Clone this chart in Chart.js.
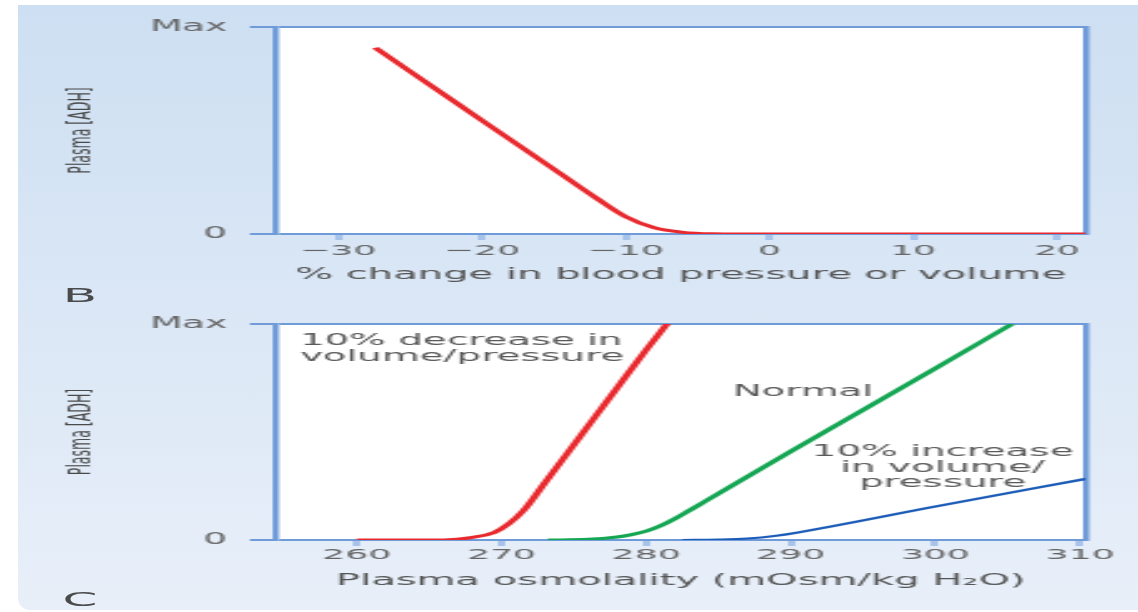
<!DOCTYPE html>
<html>
<head>
<meta charset="utf-8">
<script src="https://cdn.jsdelivr.net/npm/chart.js@4.4.0/dist/chart.umd.min.js"></script>
<style>
html, body { margin: 0; padding: 0; background: #fff; }
body { width: 1138px; height: 612px; position: relative; overflow: hidden; font-family: 'DejaVu Sans', sans-serif; }
#bg { position: absolute; left: 18px; top: 5px; width: 1120px; height: 605px; border-bottom-left-radius: 12px;
      background: linear-gradient(#cddff2, #e8eff9); }
/* the figure is drawn narrow and stretched sideways, like the reference */
#stretch { position: absolute; left: 0; top: 0; width: 455px; height: 612px; transform: scaleX(2.5011); transform-origin: 0 0; }
#boxB { position: absolute; left: 0; top: 0; width: 455px; height: 300px; }
#boxC { position: absolute; left: 0; top: 300px; width: 455px; height: 312px; }
.panel { position: absolute; left: 22px; width: 20px; text-align: center; font-size: 20px; line-height: 20px; color: #4a4a4a; }
</style>
</head>
<body>
<div id="bg"></div>
<div id="stretch">
  <div id="boxB"><canvas id="chartB"></canvas></div>
  <div id="boxC"><canvas id="chartC"></canvas></div>
  <div class="panel" style="top:285px">B</div>
  <div class="panel" style="top:589px">C</div>
</div>
<script>
// panel B
const xTicksB = [-30, -20, -10, 0, 10, 20];
const pressureChange = [-27.4, -25, -20, -15, -12, -10, -8, -6, -4, -2, 0, 10, 22];
const adhPressure = [90, 78.6, 55, 31.4, 17.2, 8.4, 3, 0.8, 0.1, 0, 0, 0, 0];

// panel C
const xTicksC = [260, 270, 280, 290, 300, 310];
const osmDecrease = [260, 266, 268, 269.5, 270.5, 271.5, 273, 275.5, 278, 280, 281.8];
const adhDecrease = [0, 0, 1.2, 3.5, 7.5, 13.5, 26.5, 48.5, 70.5, 88, 103];
const osmNormal = [273.2, 276, 278, 279, 280, 281, 282, 283, 284, 290, 300, 305.3];
const adhNormal = [0, 0.3, 1.4, 2.5, 4.1, 6.6, 9.9, 13.7, 17.6, 41, 79.5, 100];
const osmIncrease = [282.5, 285, 287, 289, 290.5, 300, 310.4];
const adhIncrease = [0, 0.2, 0.7, 2, 3.5, 15.5, 28.3];

const yTicks = [0, 100];
const yTickLabels = ['0', 'Max'];

const notesC = [
    { x: 256.06, y: 92.1, align: 'left', lines: ['10% decrease in', 'volume/pressure'] },
    { x: 286.0, y: 68.5, align: 'left', lines: ['Normal'] },
    { x: 300.5, y: 40.7, align: 'center', lines: ['10% increase', 'in volume/', 'pressure'] }
];

Chart.defaults.font.family = "'DejaVu Sans', sans-serif";
const frameBlue = '#6f9bd9';

const plotBackground = {
    id: 'plotBackground',
    beforeDraw(chart) {
        const a = chart.chartArea;
        chart.ctx.save();
        chart.ctx.fillStyle = '#fff';
        chart.ctx.fillRect(a.left, a.top, a.right - a.left, a.bottom - a.top);
        chart.ctx.restore();
    }
};

const noteLabels = {
    id: 'noteLabels',
    beforeDatasetsDraw(chart, args, opts) {
        if (!opts.items) return;
        const ctx = chart.ctx;
        ctx.save();
        ctx.font = "15.5px 'DejaVu Sans'";
        ctx.fillStyle = '#5a5a5a';
        ctx.textBaseline = 'middle';
        opts.items.forEach(n => {
            const x = chart.scales.x.getPixelForValue(n.x);
            const y = chart.scales.y.getPixelForValue(n.y);
            ctx.textAlign = n.align;
            n.lines.forEach((t, i) => ctx.fillText(t, x, y + i * 15.5));
        });
        ctx.restore();
    }
};

function curve(xs, ys, color, width) {
    return {
        data: xs.map((x, i) => ({x: x, y: ys[i]})),
        borderColor: color,
        borderWidth: width,
        pointRadius: 0,
        cubicInterpolationMode: 'monotone',
        fill: false
    };
}

function minus(v) {
    return v < 0 ? '\u2212' + Math.abs(v) : String(v);
}

function makePanel(id, cfg) {
    return new Chart(document.getElementById(id), {
        type: 'line',
        data: { datasets: cfg.datasets },
        plugins: [plotBackground, noteLabels],
        options: {
            responsive: true,
            maintainAspectRatio: false,
            animation: false,
            layout: { padding: { left: 0, right: 21, top: cfg.top, bottom: 0 } },
            plugins: {
                legend: { display: false },
                tooltip: { enabled: false },
                noteLabels: { items: cfg.notes }
            },
            scales: {
                x: {
                    type: 'linear',
                    min: cfg.xMin,
                    max: cfg.xMax,
                    afterBuildTicks: s => { s.ticks = cfg.xTicks.map(v => ({value: v})); },
                    afterFit: s => { s.height = cfg.xAxisH; },
                    border: { display: false },
                    grid: { drawOnChartArea: false, drawTicks: true, tickLength: 6, color: '#a7c3ea', lineWidth: 3 },
                    ticks: { color: '#666', font: { size: 14.5 }, padding: cfg.tickPad, maxRotation: 0, callback: v => minus(v) },
                    title: { display: true, text: cfg.xTitle, color: '#555', font: { size: 16 }, padding: { top: 0, bottom: cfg.titlePad } }
                },
                y: {
                    min: 0,
                    max: 100,
                    afterBuildTicks: s => { s.ticks = yTicks.map(v => ({value: v})); },
                    afterFit: s => { s.width = 110.3; },
                    border: { display: true, color: frameBlue, width: 2.5 },
                    grid: { color: frameBlue, lineWidth: 2, drawTicks: true, tickLength: 10.4 },
                    ticks: { color: '#666', font: { size: 15 }, padding: 9, callback: v => yTickLabels[yTicks.indexOf(v)] },
                    title: { display: true, text: 'Plasma [ADH]', color: '#4a4a4a', font: { size: 12.5 }, padding: { top: 25.3, bottom: 0 } }
                },
                y2: {
                    position: 'right',
                    ticks: { display: false },
                    grid: { display: false },
                    border: { display: true, color: frameBlue, width: 2.5 },
                    afterFit: s => { s.width = 0; }
                }
            }
        }
    });
}

makePanel('chartB', {
    datasets: [curve(pressureChange, adhPressure, '#e8292e', 3)],
    xTicks: xTicksB, xMin: -34.31, xMax: 21.98,
    top: 27, xAxisH: 66, tickPad: 3, titlePad: 15.4,
    xTitle: '% change in blood pressure or volume'
});

makePanel('chartC', {
    datasets: [
        curve(osmDecrease, adhDecrease, '#e8292e', 3),
        curve(osmNormal, adhNormal, '#14a653', 3),
        curve(osmIncrease, adhIncrease, '#1c5cb8', 2.2)
    ],
    notes: notesC,
    xTicks: xTicksC, xMin: 254.4, xMax: 310.38,
    top: 24, xAxisH: 72, tickPad: 1, titlePad: 21.4,
    xTitle: 'Plasma osmolality (mOsm/kg H\u2082O)'
});
</script>
</body>
</html>
